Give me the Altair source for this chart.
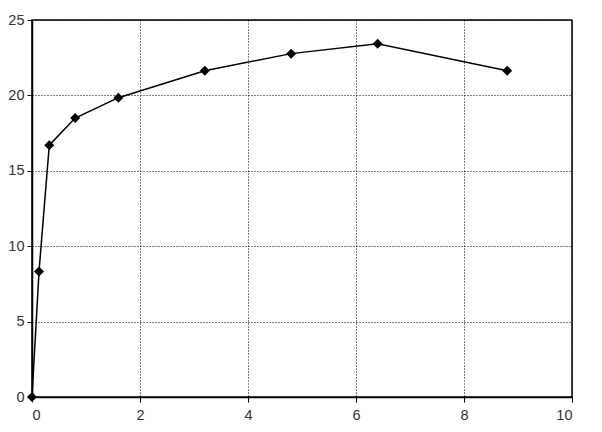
import altair as alt
import pandas as pd

x_vals = [0, 0.13, 0.32, 0.8, 1.6, 3.2, 4.8, 6.4, 8.8]
y_vals = [0, 8.33, 16.7, 18.5, 19.85, 21.64, 22.77, 23.43, 21.64]

df = pd.DataFrame({"x": x_vals, "y": y_vals})

xs = alt.Scale(domain=[0, 10], nice=False, zero=False)
ys = alt.Scale(domain=[0, 25], nice=False, zero=False)

xax = alt.Axis(values=[0, 2, 4, 6, 8, 10], title=None, labelPadding=6)
yax = alt.Axis(values=[0, 5, 10, 15, 20, 25], title=None, labelPadding=3)

base = alt.Chart(df).encode(
    x=alt.X("x:Q", scale=xs, axis=xax),
    y=alt.Y("y:Q", scale=ys, axis=yax),
)

line = base.mark_line(color="black", strokeWidth=1.5)
pts = base.mark_point(shape="diamond", filled=True, color="black", size=100, opacity=1)

chart = (line + pts).properties(
    width=540, height=377,
    autosize=alt.AutoSizeParams(type="none"),
    padding={"left": 24, "top": 12, "right": 10, "bottom": 27},
).configure_view(
    stroke="black", strokeWidth=1.5
).configure_axis(
    grid=True, gridDash=[1, 2], gridColor="black", gridOpacity=1, gridWidth=1,
    domainColor="black", domainWidth=1.5, tickColor="black", tickSize=5,
    labelFont="Liberation Sans", labelFontSize=14.5, labelColor="#333333",
)

chart.save("out.html", embed_options={"renderer": "svg", "actions": False})
